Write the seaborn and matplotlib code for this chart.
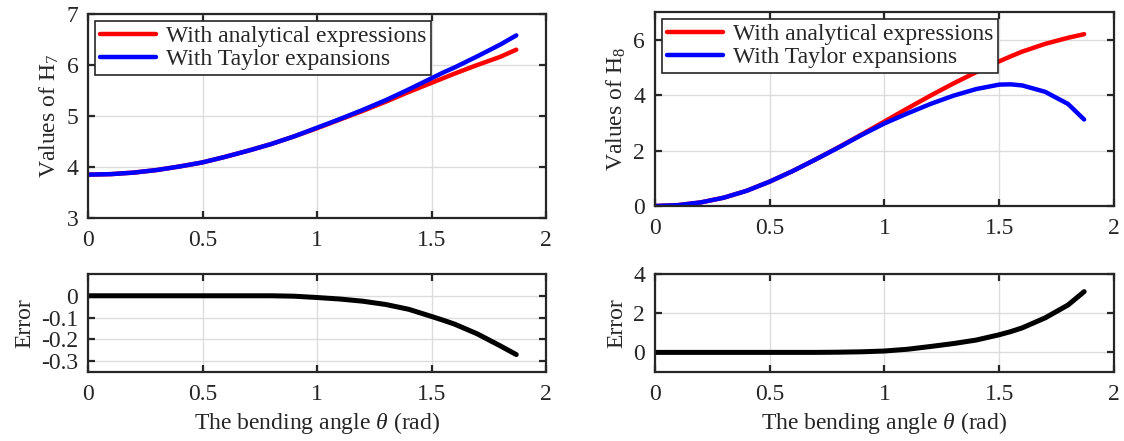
import numpy as np
import pandas as pd
import matplotlib
matplotlib.use('Agg')
import matplotlib.pyplot as plt
import seaborn as sns

# values
theta = [0, 0.1, 0.2, 0.3, 0.4, 0.5, 0.6, 0.7, 0.8, 0.9, 1.0,
         1.1, 1.2, 1.3, 1.4, 1.5, 1.55, 1.6, 1.7, 1.8, 1.87]

h7_analytic = [3.85, 3.86, 3.89, 3.94, 4.01, 4.09, 4.20, 4.32, 4.45, 4.60, 4.76,
               4.93, 5.10, 5.28, 5.47, 5.65, 5.74, 5.83, 6.00, 6.16, 6.30]
h7_taylor = [3.85, 3.86, 3.89, 3.94, 4.01, 4.09, 4.20, 4.32, 4.45, 4.60, 4.77,
             4.94, 5.12, 5.31, 5.52, 5.74, 5.85, 5.95, 6.17, 6.40, 6.58]
h7_error = [0, 0, 0, 0, 0, 0, 0, 0, 0, -0.002, -0.008,
            -0.015, -0.025, -0.04, -0.062, -0.095, -0.112, -0.13, -0.175, -0.23, -0.27]

h8_analytic = [0, 0.03, 0.13, 0.30, 0.55, 0.88, 1.26, 1.68, 2.12, 2.58, 3.05,
               3.52, 3.98, 4.42, 4.83, 5.22, 5.40, 5.57, 5.85, 6.07, 6.20]
h8_taylor = [0, 0.03, 0.13, 0.30, 0.55, 0.88, 1.26, 1.68, 2.11, 2.56, 2.98,
             3.34, 3.68, 3.98, 4.22, 4.38, 4.39, 4.35, 4.12, 3.68, 3.12]
h8_error = [0, 0, 0, 0, 0, 0, 0, 0, 0.01, 0.03, 0.07,
            0.16, 0.30, 0.45, 0.63, 0.90, 1.06, 1.25, 1.76, 2.42, 3.10]

labels = ['With analytical expressions', 'With Taylor expansions']

sns.set_style('ticks')
plt.rcParams['font.family'] = ['Liberation Serif', 'DejaVu Serif']
plt.rcParams.update({
    'font.size': 17,
    'mathtext.fontset': 'custom',
    'mathtext.rm': 'Liberation Serif',
    'mathtext.it': 'Liberation Serif:italic',
    'axes.unicode_minus': False,
    'axes.edgecolor': '#262626',
    'axes.linewidth': 1.6,
    'xtick.color': '#262626',
    'ytick.color': '#262626',
    'text.color': '#262626',
    'axes.labelcolor': '#262626',
})

fig = plt.figure(figsize=(11.24, 4.41), dpi=100)
ax_h7 = fig.add_axes([0.0783, 0.5057, 0.4075, 0.4626])
ax_h8 = fig.add_axes([0.5827, 0.5329, 0.4084, 0.4399])
ax_e7 = fig.add_axes([0.0783, 0.1565, 0.4075, 0.2222])
ax_e8 = fig.add_axes([0.5827, 0.1565, 0.4084, 0.2222])


def style(ax, ylim, yticks):
    ax.set_xlim(0, 2)
    ax.set_xticks([0, 0.5, 1, 1.5, 2])
    ax.set_xticklabels(['0', '0.5', '1', '1.5', '2'])
    ax.set_ylim(*ylim)
    ax.set_yticks(yticks)
    ax.grid(True, color='#dcdcdc', linewidth=1.0)
    ax.set_axisbelow(True)
    ax.tick_params(direction='in', length=5, width=1.6, top=True, right=True,
                   labelsize=17)
    ax.tick_params(axis='x', pad=9)
    ax.tick_params(axis='y', pad=7)
    for s in ax.spines.values():
        s.set_visible(True)


def top_panel(ax, analytic, taylor, ylabel):
    df = pd.DataFrame({'theta': theta * 2,
                       'value': analytic + taylor,
                       'kind': [labels[0]] * len(theta) + [labels[1]] * len(theta)})
    sns.lineplot(data=df, x='theta', y='value', hue='kind', palette=['#ff0000', '#0000ff'],
                 linewidth=3.2, ax=ax, legend=True)
    ax.set_xlabel('')
    ax.set_ylabel(ylabel, fontsize=17, labelpad=4)
    leg = ax.legend(loc='upper left', fontsize=17, frameon=True, fancybox=False,
                    edgecolor='#262626', handlelength=2.4, borderaxespad=0.3,
                    borderpad=0.2, labelspacing=0.05, handletextpad=0.4)
    leg.get_frame().set_linewidth(1.2)
    leg.get_frame().set_alpha(1)


def err_panel(ax, err):
    sns.lineplot(x=theta, y=err, color='black', linewidth=3.6, ax=ax)
    ax.set_ylabel('Error', fontsize=17, labelpad=4)
    ax.set_xlabel(r'The bending angle $\theta$ (rad)', fontsize=17, labelpad=3)


top_panel(ax_h7, h7_analytic, h7_taylor, r'Values of H$_7$')
style(ax_h7, (3, 7), [3, 4, 5, 6, 7])

top_panel(ax_h8, h8_analytic, h8_taylor, r'Values of H$_8$')
style(ax_h8, (0, 7), [0, 2, 4, 6])

err_panel(ax_e7, h7_error)
style(ax_e7, (-0.35, 0.1), [-0.3, -0.2, -0.1, 0])
ax_e7.set_yticklabels(['-0.3', '-0.2', '-0.1', '0'])

err_panel(ax_e8, h8_error)
style(ax_e8, (-1, 4), [0, 2, 4])

fig.savefig('out.png', dpi=100)
